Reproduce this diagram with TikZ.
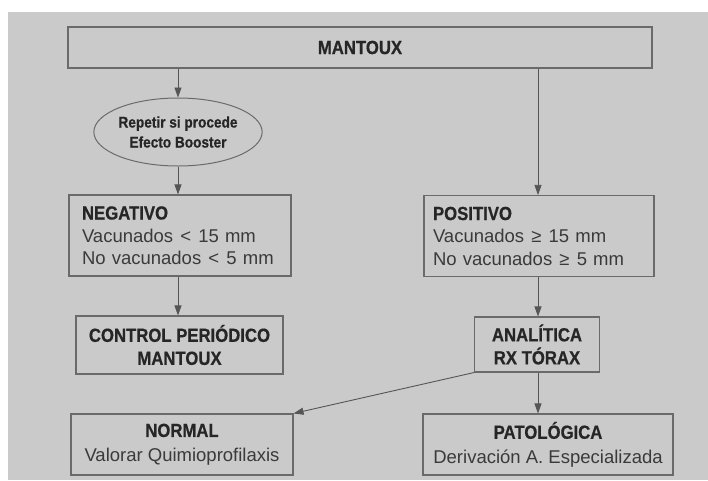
\documentclass[tikz,border=0pt]{standalone}
\usepackage{fontspec}
\setmainfont{Liberation Sans}
\newfontfamily\cb[FakeStretch=0.88,FakeBold=0.6]{Liberation Sans}
\usetikzlibrary{shapes.geometric,arrows.meta}
\definecolor{bg}{HTML}{CACACA}
\definecolor{edge}{HTML}{6A6A6A}
\definecolor{ink}{HTML}{262626}
\definecolor{inkr}{HTML}{3A3A3A}
\newcommand{\rel}[1]{\hspace{1pt}#1\hspace{1pt}}
\begin{document}
\begin{tikzpicture}[x=1pt,y=-1pt,
  boxa/.style={draw=edge,line width=1.1pt,fill=bg,rectangle,inner sep=0pt,text=ink},
  hd/.style={font=\cb\bfseries\fontsize{19}{23}\selectfont},
  rg/.style={font=\fontsize{18.5}{22.5}\selectfont},
  conn/.style={draw=edge!80!black,line width=0.9pt,-{Triangle[width=7pt,length=10pt]}}
]
\useasboundingbox (0,0) rectangle (708,480);
\fill[white] (0,0) rectangle (708,480);
\fill[bg] (8,12) rectangle (708,480);

\node[boxa,line width=1.5pt,minimum width=584pt,minimum height=41pt,hd] (mantoux) at (360,47.5)
  {MANTOUX};

\node[draw=edge,line width=1pt,fill=bg,ellipse,inner sep=0pt,minimum width=166pt,minimum height=68pt,
  align=center,text=ink,font=\cb\bfseries\fontsize{15.5}{20}\selectfont] (ell) at (178,132)
  {Repetir si procede\\Efecto Booster};

\node[boxa,rg,minimum width=222pt,minimum height=81pt,text width=196pt,align=left] (neg) at (180,235.5)
  {{\cb\bfseries\fontsize{19}{22.5}\selectfont NEGATIVO}\\
   {\color{inkr}Vacunados \rel{<} 15 mm}\\
   {\color{inkr}No vacunados \rel{<} 5 mm}};

\node[boxa,rg,minimum width=230pt,minimum height=81pt,text width=212pt,align=left] (pos) at (539,236)
  {{\cb\bfseries\fontsize{19}{22.5}\selectfont POSITIVO}\\
   {\color{inkr}Vacunados \rel{≥} 15 mm}\\
   {\color{inkr}No vacunados \rel{≥} 5 mm}};

\node[boxa,minimum width=207pt,minimum height=58pt,align=center,hd] (ctrl) at (179.5,345)
  {CONTROL PERIÓDICO\\MANTOUX};

\node[boxa,minimum width=125pt,minimum height=55pt,align=center,hd] (ana) at (537,344.5)
  {ANALÍTICA\\RX TÓRAX};

\node[boxa,font=\fontsize{18.5}{24.5}\selectfont,minimum width=222pt,minimum height=61pt,align=center] (normal) at (182,444.5)
  {{\cb\bfseries\fontsize{19}{24.5}\selectfont NORMAL}\\
   {\color{inkr}Valorar Quimioprofilaxis}};

\node[boxa,font=\fontsize{18.5}{24.5}\selectfont,minimum width=250pt,minimum height=61pt,align=center] (pat) at (548,444.5)
  {{\cb\bfseries\fontsize{19}{24.5}\selectfont PATOLÓGICA}\\
   {\color{inkr}Derivación A. Especializada}};

\draw[conn] (ell.north |- mantoux.south) -- (ell.north);
\draw[conn] (ell.south) -- (ell.south |- neg.north);
\draw[conn,line width=0.7pt] (538,0 |- mantoux.south) -- (538,0 |- pos.north);
\draw[conn] (ell.south |- neg.south) -- (ell.south |- ctrl.north);
\draw[conn] (538,0 |- pos.south) -- (538,0 |- ana.north);
\draw[conn] (ana.south west) -- (normal.north east);
\draw[conn] (538,0 |- ana.south) -- (538,0 |- pat.north);
\end{tikzpicture}
\end{document}
